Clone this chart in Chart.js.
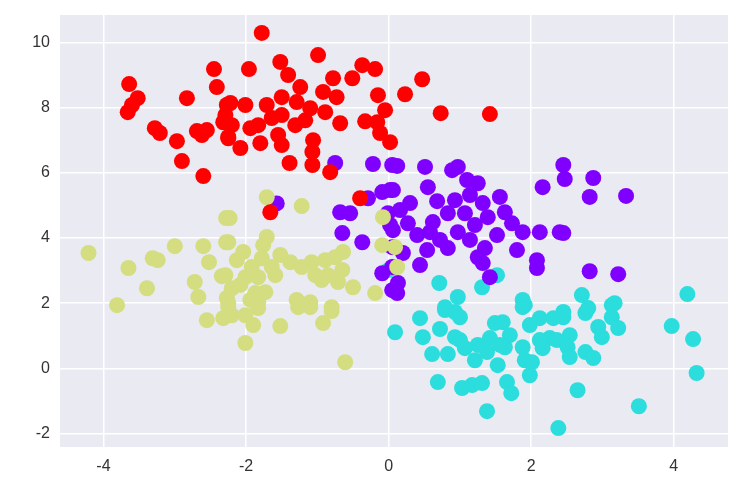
<!DOCTYPE html>
<html lang="en">
<head>
<meta charset="UTF-8">
<title>Blobs scatter</title>
<script src="https://cdn.jsdelivr.net/npm/chart.js"></script>
<style>
body{margin:0;background:#fff;}
#wrap{width:742px;height:502px;}
</style>
</head>
<body>
<div id="wrap"><canvas id="blobChart"></canvas></div>
<script>

// cluster points, [x, y]
const redPoints = [
 [-3.64,8.72],[-3.52,8.29],[-3.60,8.08],[-3.66,7.86],[-2.83,8.29],[-2.45,9.18],[-2.41,8.63],
 [-3.28,7.37],[-3.21,7.22],[-2.97,6.97],[-2.90,6.36],[-2.69,7.28],[-2.62,7.16],[-2.55,7.31],
 [-2.27,8.08],[-2.29,7.77],[-2.32,7.55],[-2.25,7.10],[-1.78,10.29],[-0.99,9.61],[-1.52,9.40],
 [-1.96,9.18],[-1.41,9.00],[-0.78,8.90],[-0.51,8.90],[-0.37,9.30],[-0.19,9.18],[-1.24,8.63],
 [-0.92,8.48],[-0.73,8.32],[-0.15,8.38],[-1.50,8.32],[-1.29,8.17],[-2.22,8.14],[-2.01,8.08],
 [-1.71,8.08],[-1.10,7.98],[-0.89,7.86],[-0.05,7.92],[-1.50,7.77],[-1.64,7.68],[-1.83,7.46],
 [-1.94,7.37],[-2.20,7.46],[-0.68,7.52],[-0.33,7.58],[-0.16,7.55],[-0.12,7.22],[0.02,6.94],
 [-1.55,7.16],[-1.50,6.85],[-1.06,7.00],[-1.07,6.64],[-1.80,6.91],[-2.08,6.76],[-2.25,7.06],
 [-1.39,6.30],[-1.07,6.24],[0.47,8.87],[0.23,8.41],[0.73,7.83],[1.42,7.80],[-0.82,6.02],
 [-1.66,4.79],[-0.40,5.22],[-2.60,5.90],[-1.31,7.46],[-1.17,7.61]
];

const purplePoints = [
 [-0.75,6.30],[-0.22,6.27],[0.05,6.24],[-1.57,5.06],[-0.68,4.79],[-0.54,4.76],[-0.29,5.22],
 [-0.09,5.41],[0.02,5.47],[-0.01,4.76],[0.02,4.40],[-0.65,4.15],[-0.37,3.87],[0.05,3.72],
 [-0.09,2.92],[0.05,2.40],[0.05,3.11],[0.12,6.21],[0.51,6.18],[0.89,6.08],[0.97,6.18],
 [1.10,5.78],[1.25,5.68],[0.06,5.47],[0.55,5.56],[0.68,5.13],[1.14,5.32],[1.56,5.26],
 [2.16,5.56],[0.30,5.07],[0.16,4.86],[0.83,4.76],[1.07,4.76],[1.32,5.07],[1.39,4.64],
 [1.63,4.79],[1.73,4.45],[1.88,4.18],[2.12,4.18],[2.40,4.18],[0.27,4.45],[0.62,4.49],
 [0.40,4.09],[0.58,4.18],[0.97,4.18],[1.14,3.94],[1.52,4.09],[0.06,4.24],[0.54,3.63],
 [0.83,3.69],[1.35,3.69],[1.25,3.41],[1.80,3.63],[0.20,3.54],[0.44,3.17],[1.32,3.23],
 [2.08,3.32],[2.08,3.08],[1.42,2.80],[0.13,2.62],[0.12,2.31],[2.45,6.24],[2.47,5.81],
 [2.87,5.84],[2.82,5.26],[3.33,5.29],[2.45,4.15],[2.82,2.98],[3.22,2.89],[0.93,5.16],
 [1.21,4.40],[0.72,3.94]
];

const cyanPoints = [
 [0.44,1.54],[0.09,1.11],[0.48,0.96],[0.72,1.21],[0.79,1.79],[0.93,1.73],[1.00,1.57],
 [0.93,0.96],[0.61,0.44],[0.83,0.44],[1.07,0.62],[1.21,0.25],[1.38,0.50],[1.42,0.93],
 [1.49,1.39],[1.60,1.42],[1.70,1.02],[1.63,0.65],[1.88,0.65],[1.91,0.25],[2.01,0.19],
 [1.98,-0.21],[1.91,1.94],[1.98,1.33],[2.12,1.54],[2.31,1.54],[2.26,0.93],[2.16,0.62],
 [0.69,-0.42],[1.03,-0.60],[1.17,-0.51],[1.31,-0.45],[1.66,-0.42],[1.72,-0.76],[1.38,-1.31],
 [2.38,-1.83],[2.45,1.57],[2.76,1.70],[3.13,1.94],[3.13,1.57],[3.22,1.24],[2.94,1.27],
 [2.99,0.96],[2.54,1.02],[2.36,0.87],[2.51,0.65],[2.54,0.35],[2.76,0.50],[2.87,0.32],
 [3.97,1.30],[4.27,0.90],[4.32,-0.14],[2.65,-0.67],[3.51,-1.16],[0.71,2.62],[0.97,2.19],
 [1.31,2.49],[1.52,2.86],[1.88,2.10],[0.79,1.88],[1.88,1.88],[2.71,2.25],[3.17,2.00],
 [4.19,2.28],[2.45,1.73],[2.80,1.85],[0.00,3.02],[1.00,0.87],[1.25,0.72],[1.56,0.72],
 [1.53,0.10],[2.12,0.87]
];

const yellowPoints = [
 [-4.21,3.54],[-3.65,3.08],[-3.39,2.46],[-3.81,1.94],[-3.31,3.38],[-3.24,3.32],[-3.00,3.75],
 [-2.60,3.75],[-2.52,3.26],[-2.28,4.61],[-2.28,3.87],[-2.34,2.83],[-2.72,2.65],[-2.67,2.19],
 [-2.27,2.16],[-2.25,1.88],[-2.55,1.48],[-2.32,1.54],[-1.71,5.25],[-1.22,4.98],[-2.23,4.61],
 [-2.25,3.87],[-1.71,4.03],[-1.76,3.78],[-2.04,3.57],[-1.52,3.48],[-2.13,3.32],[-1.92,3.11],
 [-1.64,3.11],[-2.29,2.86],[-2.01,2.80],[-1.83,2.80],[-1.59,2.86],[-2.20,2.46],[-1.87,2.31],
 [-1.73,2.34],[-2.25,2.00],[-1.83,2.03],[-1.22,3.11],[-1.08,3.26],[-0.89,3.32],[-0.75,3.41],
 [-0.64,3.57],[-1.03,2.86],[-0.85,2.86],[-0.65,3.02],[-0.94,2.71],[-0.71,2.65],[-0.50,2.49],
 [-0.19,2.31],[-0.09,3.78],[-0.08,4.64],[-1.29,2.10],[-1.10,2.03],[-0.80,1.88],[-2.20,1.63],
 [-2.01,1.63],[-1.90,1.33],[-2.01,0.78],[-1.52,1.30],[-1.83,1.85],[-1.27,1.88],[-1.10,1.88],
 [-0.80,1.76],[-0.92,1.39],[-0.61,0.19],[0.12,3.11],[0.09,3.72],[-2.08,2.56],[-1.94,2.10],
 [-1.38,3.26],[-1.78,3.38]
];

const xTickValues = [-4, -2, 0, 2, 4];
const yTickValues = [-2, 0, 2, 4, 6, 8, 10];

function toXY(list){
    return list.map(p => ({x:p[0], y:p[1]}));
}

function blob(data, color){
    return {
        data: toXY(data),
        backgroundColor: color,
        borderWidth: 0,
        pointRadius: 8,
        pointHoverRadius: 8
    };
}

const tickFont = {family:'"Liberation Sans", Arial, sans-serif', size:16};

const ctx = document.getElementById('blobChart').getContext('2d');

// dataset 0 is painted last, so red sits on top
new Chart(ctx, {
    type:'scatter',
    data:{
        datasets:[
            blob(redPoints, '#ff0000'),
            blob(yellowPoints, '#d4dd80'),
            blob(purplePoints, '#8000ff'),
            blob(cyanPoints, '#2bdddd')
        ]
    },
    options:{
        responsive:true,
        maintainAspectRatio:false,
        animation:false,
        layout:{padding:{top:15, right:14, bottom:0, left:0}},
        plugins:{
            legend:{display:false},
            tooltip:{enabled:false}
        },
        scales:{
            x:{
                type:'linear',
                min:-4.61,
                max:4.76,
                border:{display:false},
                grid:{color:'#ffffff', lineWidth:1.5, drawTicks:false},
                ticks:{
                    color:'#333333',
                    font:tickFont,
                    padding:10,
                    includeBounds:false
                },
                afterBuildTicks:s => { s.ticks = xTickValues.map(v => ({value:v})); },
                afterFit:s => { s.height = 55; s.paddingLeft = 0; s.paddingRight = 0; }
            },
            y:{
                type:'linear',
                min:-2.41,
                max:10.84,
                border:{display:false},
                grid:{color:'#ffffff', lineWidth:1.5, drawTicks:false},
                ticks:{
                    color:'#333333',
                    font:tickFont,
                    padding:10,
                    includeBounds:false
                },
                afterBuildTicks:s => { s.ticks = yTickValues.map(v => ({value:v})); },
                afterFit:s => { s.width = 60; s.paddingTop = 0; s.paddingBottom = 0; }
            }
        }
    },
    plugins:[{
        id:'plotBackground',
        beforeDraw(chart){
            const a = chart.chartArea;
            const c = chart.ctx;
            c.save();
            c.fillStyle = '#eaeaf2';
            c.fillRect(a.left, a.top, a.right - a.left, a.bottom - a.top);
            c.restore();
        }
    }]
});

</script>
</body>
</html>
